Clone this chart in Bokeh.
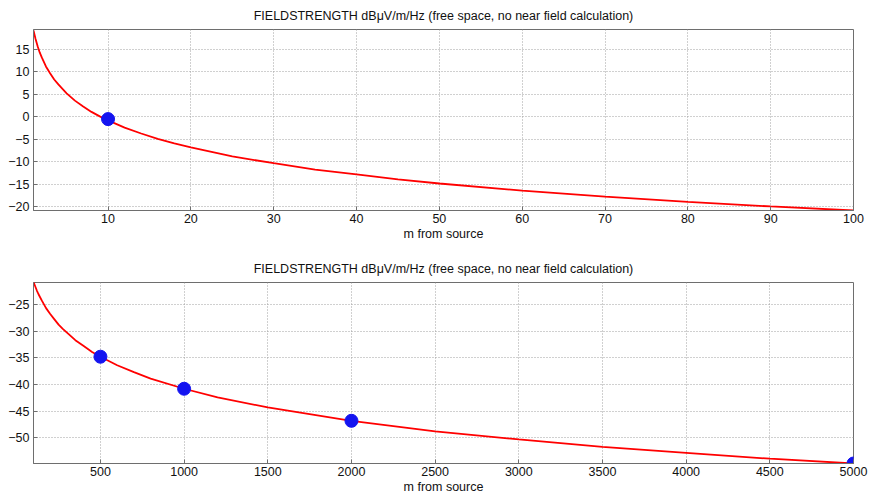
from bokeh.plotting import figure
from bokeh.layouts import column
from bokeh.models import FixedTicker, Range1d
from bokeh.embed import file_html
from bokeh.resources import INLINE

# ---- data ----
near_dist = [1, 1.25, 1.5, 1.75, 2, 2.5, 3, 3.5, 4, 5, 6, 7, 8, 9, 10, 12, 14, 16, 18,
             20, 25, 30, 35, 40, 45, 50, 60, 70, 80, 90, 100]
near_field = [19.2, 17.3, 15.7, 14.3, 13.2, 11.2, 9.7, 8.3, 7.2, 5.2, 3.6, 2.3, 1.1, 0.1,
              -0.8, -2.4, -3.7, -4.9, -5.9, -6.8, -8.8, -10.3, -11.7, -12.8, -13.9, -14.8,
              -16.4, -17.7, -18.9, -19.9, -20.8]
near_mark_dist = [10]
near_mark_field = [-0.5]

far_dist = [100, 110, 120, 130, 150, 175, 200, 225, 250, 275, 300, 350, 400, 450, 500,
            600, 700, 800, 1000, 1200, 1500, 2000, 2500, 3000, 3500, 4000, 4500, 5000]
far_field = [-20.8, -21.6, -22.4, -23.1, -24.3, -25.7, -26.8, -27.8, -28.8, -29.6, -30.3,
             -31.7, -32.8, -33.9, -34.8, -36.4, -37.7, -38.9, -40.8, -42.4, -44.3, -46.8,
             -48.8, -50.3, -51.7, -52.8, -53.9, -54.8]
far_mark_dist = [500, 1000, 2000, 5000]
far_mark_field = [-34.8, -40.8, -46.8, -54.8]

near_xticks = [10, 20, 30, 40, 50, 60, 70, 80, 90, 100]
near_yticks = [-20, -15, -10, -5, 0, 5, 10, 15]
far_xticks = [500, 1000, 1500, 2000, 2500, 3000, 3500, 4000, 4500, 5000]
far_yticks = [-50, -45, -40, -35, -30, -25]

TITLE = "FIELDSTRENGTH dB\u03bcV/m/Hz (free space, no near field calculation)"
XLABEL = "m from source"
FONT = "Liberation Sans"
FS = "12.5px"
AXCOL = "#6e6e6e"
TXT = "#111111"


def make_panel(xs, ys, mx, my, xr, yr, xt, yt, top, bottom):
    p = figure(frame_width=820, frame_height=181, output_backend="svg",
               toolbar_location=None, x_range=Range1d(*xr), y_range=Range1d(*yr),
               min_border_left=33, min_border_right=18, min_border_top=top,
               min_border_bottom=bottom, background_fill_color="white",
               border_fill_color="white", outline_line_color=AXCOL)
    p.title.text = TITLE
    p.title.align = "center"
    p.title.vertical_align = "top"
    p.title.text_font = FONT
    p.title.text_font_size = FS
    p.title.text_font_style = "normal"
    p.title.text_color = TXT

    for ax in (p.xaxis[0], p.yaxis[0]):
        ax.axis_line_color = AXCOL
        ax.major_tick_line_color = AXCOL
        ax.major_tick_in = 4
        ax.major_tick_out = 0
        ax.minor_tick_line_color = None
        ax.major_label_text_font = FONT
        ax.major_label_text_font_size = FS
        ax.major_label_text_color = TXT
        ax.major_label_standoff = 4
    p.xaxis[0].major_label_standoff = 3
    p.xaxis[0].ticker = FixedTicker(ticks=xt)
    p.yaxis[0].ticker = FixedTicker(ticks=yt)
    p.xaxis[0].axis_label = XLABEL
    p.xaxis[0].axis_label_text_font = FONT
    p.xaxis[0].axis_label_text_font_size = FS
    p.xaxis[0].axis_label_text_font_style = "normal"
    p.xaxis[0].axis_label_text_color = TXT
    p.xaxis[0].axis_label_standoff = 1

    p.xgrid.ticker = FixedTicker(ticks=xt)
    p.ygrid.ticker = FixedTicker(ticks=yt)
    for g in (p.xgrid[0], p.ygrid[0]):
        g.grid_line_color = "#a0a0a0"
        g.grid_line_dash = "1 2"
        g.grid_line_width = 1

    p.line(xs, ys, line_color="#ff0000", line_width=1.8)
    p.scatter(mx, my, size=13, fill_color="#1414f0", line_color="#1414f0")
    return p


top = make_panel(near_dist, near_field, near_mark_dist, near_mark_field,
                 (1, 100), (-20.8, 19.4), near_xticks, near_yticks, 29, 38)
bot = make_panel(far_dist, far_field, far_mark_dist, far_mark_field,
                 (100, 5000), (-54.8, -20.9), far_xticks, far_yticks, 34, 32)

layout = column(top, bot, spacing=0)
open("out.html", "w").write(file_html(layout, INLINE))
